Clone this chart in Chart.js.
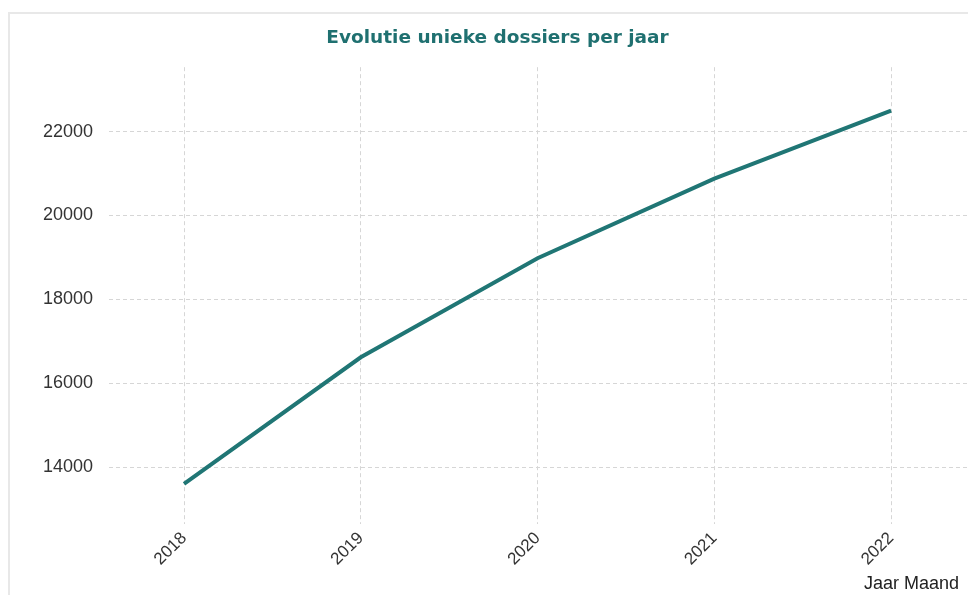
<!DOCTYPE html>
<html>
<head>
<meta charset="utf-8">
<script src="https://cdn.jsdelivr.net/npm/chart.js@4.4.0/dist/chart.umd.min.js"></script>
<style>
  body { margin: 0; background: #fff; }
  #frame { position: absolute; left: 8px; top: 12px; right: 0; bottom: 0; border-left: 2px solid #e8e8e8; border-top: 2px solid #e8e8e8; }
  #wrap { position: absolute; left: 0; top: 0; width: 968px; height: 595px; }
</style>
</head>
<body>
<div id="frame"></div>
<div id="wrap"><canvas id="grafico_dossiers"></canvas></div>
<script>
var jaren = ['2018', '2019', '2020', '2021', '2022'];
var dossiers = [13600, 16620, 18980, 20880, 22500];
var yTicks = [14000, 16000, 18000, 20000, 22000];

var punten = jaren.map(function(j, i) {
  return { x: Number(j), y: dossiers[i] };
});

new Chart(document.getElementById("grafico_dossiers"), {
  type: 'line',
  data: {
    datasets: [{
      label: "Unieke dossiers",
      data: punten,
      borderColor: '#207675',
      borderWidth: 4,
      pointRadius: 0,
      fill: false,
      tension: 0
    }]
  },
  options: {
    responsive: true,
    maintainAspectRatio: false,
    animation: false,
    layout: { padding: { top: 12, left: 27, right: 0, bottom: 0 } },
    plugins: {
      legend: { display: false },
      tooltip: { enabled: false },
      title: {
        display: true,
        text: 'Evolutie unieke dossiers per jaar',
        color: '#1f7070',
        font: { family: 'DejaVu Sans', size: 18.5, weight: 'bold' },
        padding: { top: 15, bottom: 18 }
      }
    },
    scales: {
      x: {
        type: 'linear',
        min: 2017.576,
        max: 2022.435,
        afterBuildTicks: function(axis) {
          axis.ticks = jaren.map(function(j) { return { value: Number(j) }; });
        },
        ticks: {
          minRotation: 45,
          maxRotation: 45,
          padding: 4,
          color: '#333',
          font: { family: 'Liberation Sans', size: 17 },
          callback: function(v) { return String(v); }
        },
        grid: { color: '#d6d6d6', drawTicks: false },
        border: { display: false, dash: [4, 3] },
        title: {
          display: true,
          text: 'Jaar Maand\u2002',
          align: 'end',
          color: '#222',
          font: { family: 'Liberation Sans', size: 18 },
          padding: { top: 0, bottom: 0 }
        }
      },
      y: {
        min: 12638,
        max: 23537,
        afterBuildTicks: function(axis) {
          axis.ticks = yTicks.map(function(v) { return { value: v }; });
        },
        ticks: {
          padding: 16,
          color: '#333',
          font: { family: 'Liberation Sans', size: 18 },
          callback: function(v) { return String(v); }
        },
        grid: { color: '#d6d6d6', drawTicks: false },
        border: { display: false, dash: [4, 3] }
      }
    }
  }
});
</script>
</body>
</html>
